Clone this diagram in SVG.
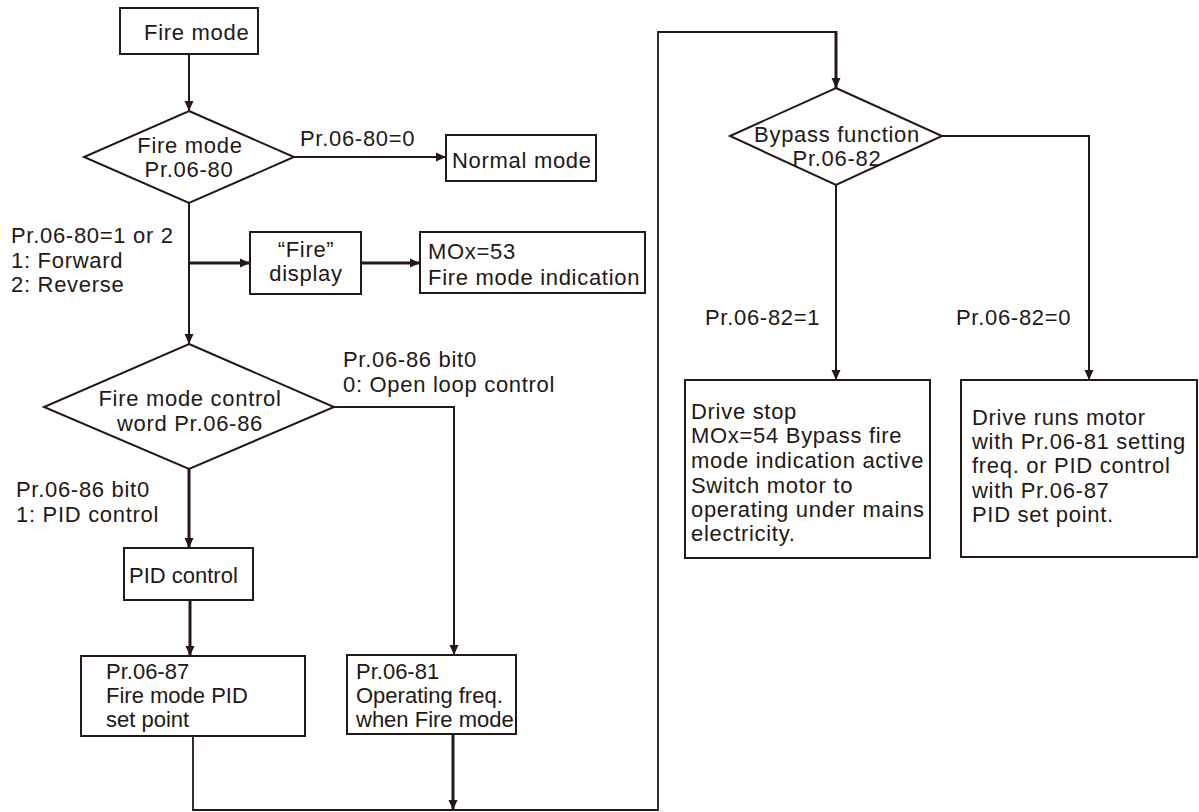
<svg xmlns="http://www.w3.org/2000/svg" width="1199" height="812" viewBox="0 0 1199 812">
<style>
.bx{fill:#fff;stroke:#231815;stroke-width:2}
.t{font-family:"Liberation Sans",Arial,sans-serif;font-size:22px;letter-spacing:0.7px;fill:#231815}
.n{letter-spacing:0}
.m{text-anchor:middle}
.c{fill:none;stroke:#231815;stroke-width:2}
.k{stroke-width:3}
</style>
<defs>
<marker id="ah" markerUnits="userSpaceOnUse" markerWidth="10" markerHeight="10" refX="10" refY="5" orient="auto">
<path d="M0,0.5 L10,5 L0,9.5 z" fill="#231815"/>
</marker>
</defs>
<rect width="1199" height="812" fill="#fff"/>
<g id="connectors">
<path class="c" d="M189,54 V111" marker-end="url(#ah)"/>
<path class="c" d="M294,157 H446" marker-end="url(#ah)"/>
<path class="c" d="M189,203 V344" marker-end="url(#ah)"/>
<path class="c k" d="M189,263 H250" marker-end="url(#ah)"/>
<path class="c k" d="M361,263 H420" marker-end="url(#ah)"/>
<path class="c" d="M334,407 H454 V655" marker-end="url(#ah)"/>
<path class="c k" d="M189,469 V548" marker-end="url(#ah)"/>
<path class="c k" d="M190,600 V656" marker-end="url(#ah)"/>
<path class="c" d="M193,736 V810 H658 V32 H836" style="stroke-width:1.8"/>
<path class="c k" d="M836,31 V88" marker-end="url(#ah)"/>
<path class="c k" d="M453,734 V810" marker-end="url(#ah)"/>
<path class="c" d="M836,185 V380" marker-end="url(#ah)"/>
<path class="c" d="M942,136 H1089 V380" marker-end="url(#ah)"/>
<text class="t" x="300" y="146">Pr.06-80=0</text>
<text class="t" x="11" y="243">Pr.06-80=1 or 2</text>
<text class="t" x="11" y="268">1: Forward</text>
<text class="t" x="11" y="292">2: Reverse</text>
<text class="t" x="343" y="367">Pr.06-86 bit0</text>
<text class="t" x="343" y="392">0: Open loop control</text>
<text class="t" x="16" y="497">Pr.06-86 bit0</text>
<text class="t" x="16" y="522">1: PID control</text>
<text class="t" x="705" y="325">Pr.06-82=1</text>
<text class="t" x="956" y="325">Pr.06-82=0</text>
</g>
<g id="fire-mode">
<rect class="bx" x="120" y="8" width="138" height="46"/>
<text class="t" x="144" y="40">Fire mode</text>
</g>
<g id="fire-mode-decision">
<polygon class="bx" points="189,111 294,157 189,203 84,157"/>
<text class="t m" x="190" y="153">Fire mode</text>
<text class="t m" x="189" y="177">Pr.06-80</text>
</g>
<g id="normal-mode">
<rect class="bx" x="446" y="135" width="150" height="46"/>
<text class="t" x="452" y="168">Normal mode</text>
</g>
<g id="fire-display">
<rect class="bx" x="250" y="232" width="111" height="62"/>
<text class="t m" x="306" y="257">“Fire”</text>
<text class="t m" x="306" y="281">display</text>
</g>
<g id="mox53">
<rect class="bx" x="420" y="232" width="225" height="61"/>
<text class="t" x="428" y="259">MOx=53</text>
<text class="t" x="428" y="285">Fire mode indication</text>
</g>
<g id="control-word">
<polygon class="bx" points="189,344 334,407 189,469 44,407"/>
<text class="t m" x="190" y="406">Fire mode control</text>
<text class="t m" x="190" y="431">word Pr.06-86</text>
</g>
<g id="pid-control">
<rect class="bx" x="124" y="548" width="129" height="52"/>
<text class="t n" x="129" y="583">PID control</text>
</g>
<g id="pr0687">
<rect class="bx" x="81" y="656" width="224" height="80"/>
<text class="t n" x="106" y="679">Pr.06-87</text>
<text class="t n" x="106" y="703">Fire mode PID</text>
<text class="t n" x="106" y="727">set point</text>
</g>
<g id="pr0681">
<rect class="bx" x="347" y="655" width="169" height="79"/>
<text class="t n" x="356" y="679">Pr.06-81</text>
<text class="t n" x="356" y="703">Operating freq.</text>
<text class="t n" x="356" y="727">when Fire mode</text>
</g>
<g id="bypass">
<polygon class="bx" points="836,88 942,136 836,185 730,136"/>
<text class="t m" x="837" y="142">Bypass function</text>
<text class="t m" x="837" y="166">Pr.06-82</text>
</g>
<g id="drive-stop">
<rect class="bx" x="685" y="380" width="245" height="178"/>
<text class="t" x="691" y="419">Drive stop</text>
<text class="t" x="691" y="443">MOx=54 Bypass fire</text>
<text class="t" x="691" y="468">mode indication active</text>
<text class="t" x="691" y="493">Switch motor to</text>
<text class="t" x="691" y="517">operating under mains</text>
<text class="t" x="691" y="541">electricity.</text>
</g>
<g id="drive-runs">
<rect class="bx" x="961" y="380" width="236" height="177"/>
<text class="t" x="972" y="425">Drive runs motor</text>
<text class="t" x="972" y="449">with Pr.06-81 setting</text>
<text class="t" x="972" y="473">freq. or PID control</text>
<text class="t" x="972" y="498">with Pr.06-87</text>
<text class="t" x="972" y="522">PID set point.</text>
</g>
</svg>
